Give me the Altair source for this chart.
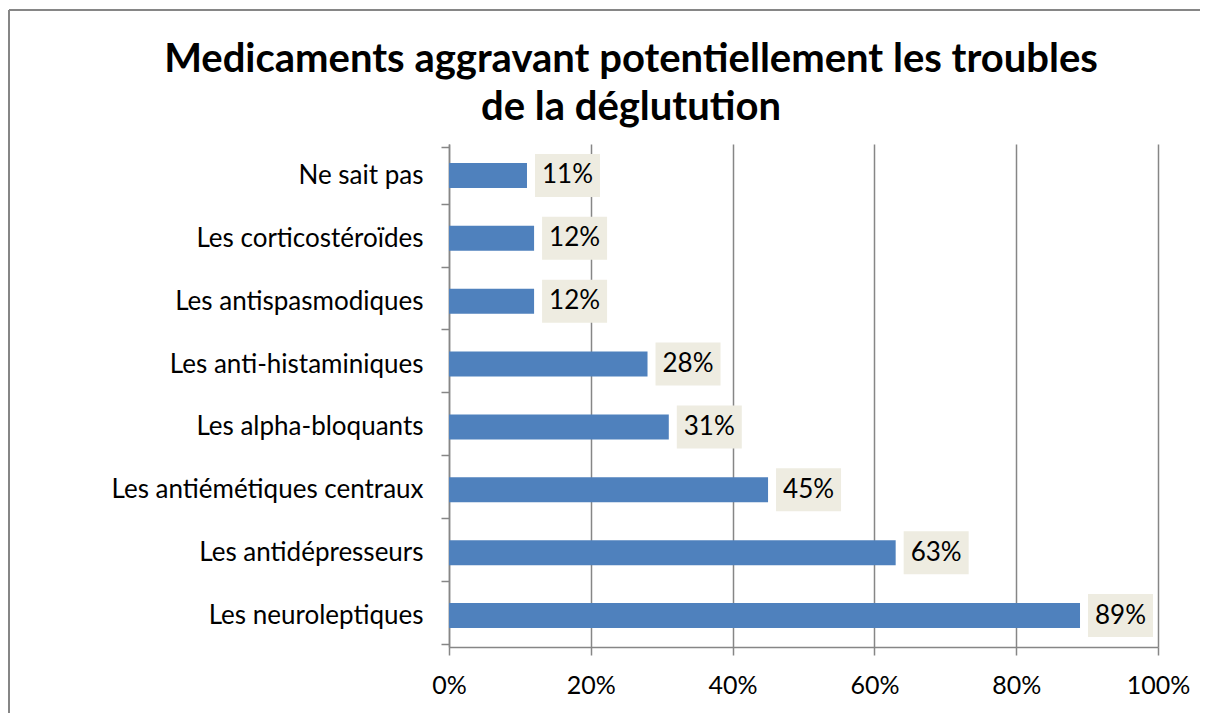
import altair as alt
import pandas as pd

categories = ["Ne sait pas", "Les corticostéroïdes", "Les antispasmodiques",
              "Les anti-histaminiques", "Les alpha-bloquants ", "Les antiémétiques centraux",
              "Les antidépresseurs", "Les neuroleptiques"]
values = [11, 12, 12, 28, 31, 45, 63, 89]
tick_values = [0, 0.2, 0.4, 0.6, 0.8, 1.0]
title_lines = ["Medicaments aggravant potentiellement les troubles", "de la déglutution"]

df = pd.DataFrame({
    "cat": categories,
    "pct": [v / 100 for v in values],
    "label": [f"{v}%" for v in values],
})

FONT = "Lato"
W, H = 709, 503
GRAY = "#868686"

y_enc = alt.Y("cat:N", sort=categories, title=None,
              axis=alt.Axis(tickBand="extent", tickSize=8, labelPadding=18,
                            labelFontSize=26, labelFont=FONT, labelColor="black",
                            domainColor=GRAY, tickColor=GRAY, grid=False,
                            labelLimit=500))
x_enc = alt.X("pct:Q", title=None, scale=alt.Scale(domain=[0, 1], nice=False),
              axis=alt.Axis(values=tick_values, format=".0%", tickSize=8,
                            labelPadding=18, labelFontSize=25, labelFont=FONT,
                            labelColor="black", domainColor=GRAY, tickColor=GRAY,
                            grid=True, gridColor=GRAY, gridWidth=1.5, labelFlush=False,
                            domainWidth=1.5, tickWidth=1.5))

base = alt.Chart(df)

bars = base.mark_bar(color="#4F81BD", size=25).encode(x=x_enc, y=y_enc)

boxes = base.mark_bar(color="#EEECE1", size=43, xOffset=8, x2Offset=73).encode(
    x="pct:Q", x2="pct:Q", y=alt.Y("cat:N", sort=categories))

labels = base.mark_text(font=FONT, fontSize=26, color="black", align="center",
                        baseline="middle", dx=40.5).encode(
    x="pct:Q", y=alt.Y("cat:N", sort=categories), text="label:N")

# decorative outer frame (only left and top edges fall inside the canvas)
frame_top = alt.Chart(pd.DataFrame({"a": [0]})).mark_rule(
    stroke=GRAY, strokeWidth=2).encode(
    x=alt.value(-440), x2=alt.value(W + 100), y=alt.value(-134))
frame_left = alt.Chart(pd.DataFrame({"a": [0]})).mark_rule(
    stroke=GRAY, strokeWidth=2).encode(
    x=alt.value(-440), y=alt.value(-134), y2=alt.value(H + 100))

title1 = alt.Chart(pd.DataFrame({"t": [title_lines[0]]})).mark_text(
    font=FONT, fontSize=40, fontWeight="bold", color="black", align="center",
    baseline="middle").encode(x=alt.value(182), y=alt.value(-84), text="t:N")
title2 = alt.Chart(pd.DataFrame({"t": [title_lines[1]]})).mark_text(
    font=FONT, fontSize=40, fontWeight="bold", color="black", align="center",
    baseline="middle").encode(x=alt.value(182), y=alt.value(-36), text="t:N")

chart = alt.layer(frame_top, frame_left, bars, boxes, labels, title1, title2).properties(
    width=W, height=H,
    autosize=alt.AutoSizeParams(type="none"),
    padding={"left": 441, "top": 136, "right": 42, "bottom": 66},
).configure_view(stroke=None).configure_axisY(tickWidth=1.5, domainWidth=1.5)

chart.save("out.html", embed_options={"renderer": "svg", "actions": False})
